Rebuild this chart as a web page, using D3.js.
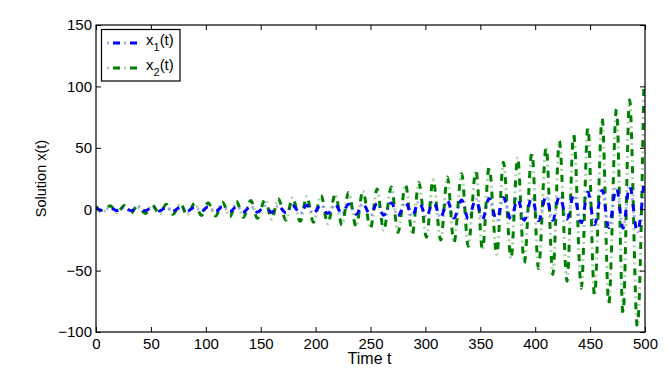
<!DOCTYPE html>
<html>
<head>
<meta charset="utf-8">
<script src="https://cdn.jsdelivr.net/npm/d3@7"></script>
<style>
  body { margin: 0; background: #fff; }
  svg { display: block; font-family: "Liberation Sans", Arial, sans-serif; }
</style>
</head>
<body>
<div class="canvas"></div>
<script>
// time stamps of the turning points
const tVals = [0, 6, 13, 19, 26, 32, 38, 45, 51, 58, 64, 70, 77, 83, 90, 96, 102, 109, 115, 122,
    128, 134, 141, 147, 154, 160, 166, 173, 179, 186, 192, 198, 205, 211, 218, 224, 230, 237, 243, 250,
    256, 262, 269, 275, 282, 288, 294, 301, 307, 314, 320, 326, 333, 339, 346, 352, 358, 365, 371, 378,
    384, 390, 397, 403, 410, 416, 422, 429, 435, 442, 448, 454, 461, 467, 474, 480, 486, 493, 499];

// x1(t) values at those points
const x1Vals = [1.0, -1.0, 1.1, -1.1, 1.2, -1.2, 1.3, -1.3, 1.4, -1.4, 1.5, -1.5, 1.6, -1.7, 1.7, -1.8, 1.9, -1.9, 2.0, -2.1,
    2.2, -2.3, 2.4, -2.4, 2.5, -2.6, 2.7, -2.9, 3.0, -3.1, 3.2, -3.3, 3.5, -3.6, 3.8, -3.9, 4.0, -4.2, 4.4, -4.6,
    4.7, -4.9, 5.1, -5.3, 5.5, -5.7, 6.0, -6.2, 6.4, -6.7, 7.0, -7.2, 7.5, -7.8, 8.1, -8.4, 8.8, -9.1, 9.5, -8.5,
    9.0, -9.0, 9.5, -9.5, 10.5, -9.0, 11.0, -8.0, 11.5, -11.0, 14.0, -12.5, 15.5, -15.0, 18.0, -15.5, 19.5, -18.5, 22.5];

// x2(t) values at those points
const x2Vals = [2.5, -2.6, 2.8, -2.9, 3.0, -3.2, 3.3, -3.5, 3.6, -3.8, 4.0, -4.2, 4.4, -4.6, 4.8, -5.1, 5.3, -5.6, 5.8, -6.1,
    6.4, -6.7, 7.1, -7.4, 7.8, -8.1, 8.5, -8.9, 9.3, -9.8, 10.3, -10.7, 11.3, -11.8, 12.4, -13.0, 13.6, -14.3, 14.9, -15.7,
    16.4, -17.2, 18.1, -18.9, 19.9, -20.8, 21.7, -22.8, 23.9, -25.1, 26.3, -27.5, 28.9, -30.2, 31.8, -33.2, 34.7, -36.6, 38.2, -40.2,
    42.0, -43.9, 46.3, -48.4, 50.9, -53.2, 55.6, -58.6, 61.2, -64.4, 67.3, -70.4, 74.1, -77.5, 81.5, -85.2, 89.1, -95.5, 101.0];

const xTicks = [0, 50, 100, 150, 200, 250, 300, 350, 400, 450, 500];
const yTicks = [-100, -50, 0, 50, 100, 150];
const seriesNames = ['1', '2'];
const seriesColors = ['#0000ff', '#008000'];

const dims = { width: 668, height: 372 };
const plot = { left: 96, right: 645, top: 25, bottom: 332 };

const svg = d3.select('.canvas')
    .append('svg')
    .attr('width', dims.width)
    .attr('height', dims.height);

svg.append('rect')
    .attr('width', dims.width)
    .attr('height', dims.height)
    .attr('fill', '#fff');

const x = d3.scaleLinear().domain([0, 500]).range([plot.left, plot.right]);
const y = d3.scaleLinear().domain([-100, 150]).range([plot.bottom, plot.top]);

svg.append('clipPath')
    .attr('id', 'clip')
    .append('rect')
    .attr('x', plot.left)
    .attr('y', plot.top)
    .attr('width', plot.right - plot.left)
    .attr('height', plot.bottom - plot.top);

// series
const line = d3.line()
    .x(d => x(d.t))
    .y(d => y(d.v))
    .curve(d3.curveMonotoneX);

const series = [
    tVals.map((t, i) => ({ t, v: x1Vals[i] })),
    tVals.map((t, i) => ({ t, v: x2Vals[i] }))
];

const lines = svg.append('g').attr('clip-path', 'url(#clip)');

// green drawn first, blue on top
[1, 0].forEach(k => {
    // dot parts of the dash-dot pattern (rendered faint)
    lines.append('path')
        .datum(series[k])
        .attr('fill', 'none')
        .attr('stroke', seriesColors[k])
        .attr('stroke-width', 3)
        .attr('stroke-opacity', 0.35)
        .attr('stroke-dasharray', '0,11,2,4')
        .attr('d', line);
    // dash parts
    lines.append('path')
        .datum(series[k])
        .attr('fill', 'none')
        .attr('stroke', seriesColors[k])
        .attr('stroke-width', 3)
        .attr('stroke-dasharray', '7,10')
        .attr('d', line);
});

// axes with inward ticks
const fontSize = 15;

const xAxis = svg.append('g')
    .attr('transform', `translate(0, ${plot.bottom})`)
    .call(d3.axisBottom(x).tickValues(xTicks).tickSize(-5).tickSizeOuter(0).tickPadding(6));

const yAxis = svg.append('g')
    .attr('transform', `translate(${plot.left}, 0)`)
    .call(d3.axisLeft(y).tickValues(yTicks).tickSize(-5).tickSizeOuter(0).tickPadding(4));

svg.append('g')
    .attr('transform', `translate(0, ${plot.top})`)
    .call(d3.axisTop(x).tickValues(xTicks).tickSize(-5).tickSizeOuter(0).tickFormat(''));

svg.append('g')
    .attr('transform', `translate(${plot.right}, 0)`)
    .call(d3.axisRight(y).tickValues(yTicks).tickSize(-5).tickSizeOuter(0).tickFormat(''));

svg.selectAll('.domain').remove();
svg.selectAll('.tick line').attr('stroke', '#000');
svg.selectAll('.tick text')
    .attr('fill', '#000')
    .style('font-size', fontSize + 'px')
    .style('font-family', '"Liberation Sans", Arial, sans-serif');

// axes box
svg.append('rect')
    .attr('x', plot.left)
    .attr('y', plot.top)
    .attr('width', plot.right - plot.left)
    .attr('height', plot.bottom - plot.top)
    .attr('fill', 'none')
    .attr('stroke', '#000')
    .attr('stroke-width', 1.2);

// axis labels
svg.append('text')
    .attr('x', (plot.left + plot.right) / 2 - 1)
    .attr('y', 364)
    .attr('text-anchor', 'middle')
    .style('font-size', '16px')
    .text('Time t');

svg.append('text')
    .attr('transform', `translate(46, ${(plot.top + plot.bottom) / 2}) rotate(-90)`)
    .attr('text-anchor', 'middle')
    .style('font-size', '14.5px')
    .text('Solution x(t)');

// legend
const legend = svg.append('g').attr('transform', 'translate(101.5, 29.5)');

legend.append('rect')
    .attr('width', 78.5)
    .attr('height', 51.5)
    .attr('fill', '#fff')
    .attr('stroke', '#000')
    .attr('stroke-width', 1.2);

seriesNames.forEach((name, i) => {
    const row = legend.append('g').attr('transform', `translate(0, ${13.5 + i * 25})`);
    row.append('line')
        .attr('x1', 5.5).attr('x2', 35.5)
        .attr('stroke', seriesColors[i])
        .attr('stroke-width', 3)
        .attr('stroke-opacity', 0.35)
        .attr('stroke-dasharray', '2,15');
    row.append('line')
        .attr('x1', 5.5).attr('x2', 35.5)
        .attr('stroke', seriesColors[i])
        .attr('stroke-width', 3)
        .attr('stroke-dasharray', '0,6,7,4');
    const label = row.append('text')
        .attr('x', 44.5)
        .attr('y', 2)
        .style('font-size', fontSize + 'px');
    label.append('tspan').text('x');
    label.append('tspan').attr('dy', 6).style('font-size', '11px').text(name);
    label.append('tspan').attr('dy', -6).text('(t)');
});
</script>
</body>
</html>
